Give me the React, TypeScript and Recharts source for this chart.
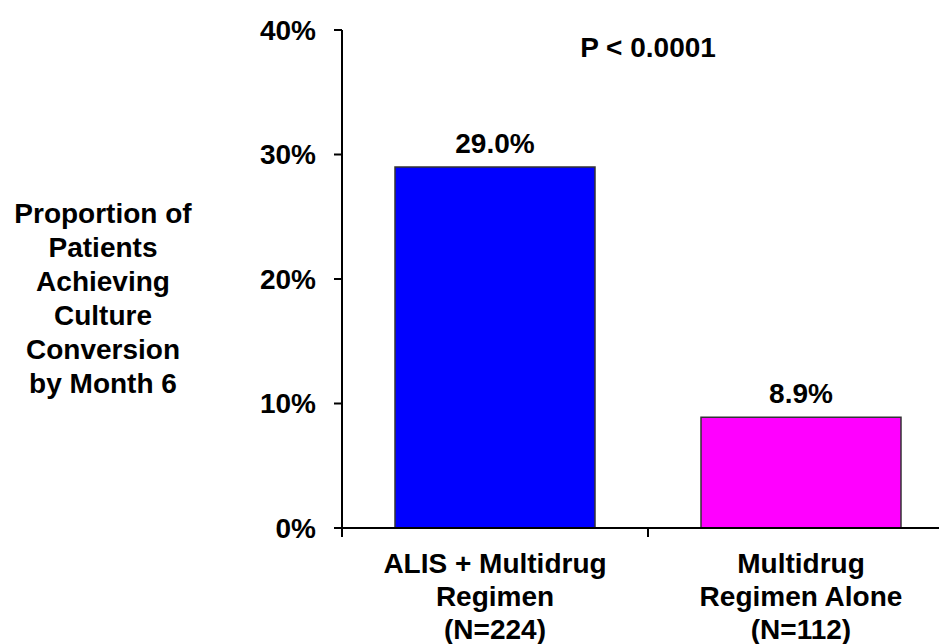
import React from 'react';
import {
  BarChart, Bar, XAxis, YAxis, LabelList, Cell, Customized
} from 'recharts';

// Culture conversion by month 6, per treatment arm
const arms = ['ALIS + Multidrug|Regimen|(N=224)', 'Multidrug|Regimen Alone|(N=112)'];
const conversion = [29.0, 8.9];
const barColors = ['#0000FF', '#FF00FF'];
const yTicks = [0, 10, 20, 30, 40];
const yTitle = ['Proportion of', 'Patients', 'Achieving', 'Culture', 'Conversion', 'by Month 6'];
const pValue = 'P < 0.0001';

const chartData = arms.map((arm, i) => ({ arm, value: conversion[i] }));

const FONT = '"Liberation Sans", Arial, Helvetica, sans-serif';
const W = 960;
const H = 636;
const Y_AXIS_W = 334;
const MARGIN = { top: 22, right: 14, bottom: 0, left: 0 };
const BAND = (W - Y_AXIS_W - MARGIN.right) / arms.length;

// category label plus the small tick marks on the band edges
const CategoryTick = (props: any) => {
  const { x, y, payload, index } = props;
  const lines = String(payload.value).split('|');
  const left = x - BAND / 2;
  const right = x + BAND / 2;
  return (
    <g>
      <line x1={left} x2={left} y1={y} y2={y + 9} stroke="#000" strokeWidth={2} />
      {index === arms.length - 1 && (
        <line x1={right} x2={right} y1={y} y2={y + 9} stroke="#000" strokeWidth={2} />
      )}
      <text x={x} y={y} textAnchor="middle" fill="#000" fontFamily={FONT} fontSize={28} fontWeight="bold">
        {lines.map((line, i) => (
          <tspan key={i} x={x} dy={i === 0 ? 45 : 33}>{line}</tspan>
        ))}
      </text>
    </g>
  );
};

const YTitle = (props: any) => {
  const { viewBox } = props;
  const cx = viewBox.x + 95;
  const first = viewBox.y + viewBox.height / 2 + 29 - 2.5 * 34;
  return (
    <text x={cx} y={first} textAnchor="middle" fill="#000" fontFamily={FONT} fontSize={28} fontWeight="bold">
      {yTitle.map((line, i) => (
        <tspan key={i} x={cx} dy={i === 0 ? 0 : 34}>{line}</tspan>
      ))}
    </text>
  );
};

const PLabel = () => (
  <text
    x={Y_AXIS_W + BAND}
    y={49}
    textAnchor="middle"
    fill="#000"
    fontFamily={FONT}
    fontSize={28}
    fontWeight="bold"
  >
    {pValue}
  </text>
);

export default function App() {
  return (
    <div style={{ width: 939, height: H, overflow: 'hidden', background: '#fff' }}>
      <BarChart width={W} height={H} data={chartData} margin={MARGIN} barSize={200}>
        <XAxis
          dataKey="arm"
          height={116}
          axisLine={{ stroke: '#000', strokeWidth: 2 }}
          tickLine={false}
          tickSize={0}
          tickMargin={0}
          tick={<CategoryTick />}
          interval={0}
        />
        <YAxis
          width={Y_AXIS_W}
          domain={[0, 40]}
          ticks={yTicks}
          tickFormatter={(v: number) => `${v}%`}
          axisLine={{ stroke: '#000', strokeWidth: 2 }}
          tickLine={{ stroke: '#000', strokeWidth: 2 }}
          tickSize={8}
          tickMargin={18}
          tick={{ fill: '#000', fontFamily: FONT, fontSize: 28, fontWeight: 'bold' }}
          label={<YTitle />}
        />
        <Bar dataKey="value" stroke="#333" strokeWidth={1.5} isAnimationActive={false}>
          {chartData.map((d, i) => (
            <Cell key={d.arm} fill={barColors[i]} />
          ))}
          <LabelList
            dataKey="value"
            position="top"
            offset={14}
            formatter={(v: number) => `${v.toFixed(1)}%`}
            fill="#000"
            fontFamily={FONT}
            fontSize={28}
            fontWeight="bold"
          />
        </Bar>
        <Customized component={<PLabel />} />
      </BarChart>
    </div>
  );
}
